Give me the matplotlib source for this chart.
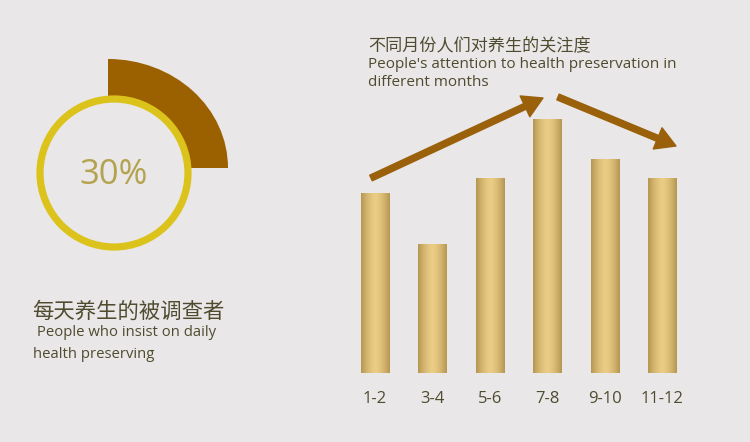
import matplotlib.pyplot as plt
import matplotlib.patches as mpatches
import matplotlib.transforms as mtransforms
import numpy as np

plt.rcParams['font.family'] = ['Open Sans', 'Noto Sans CJK SC', 'DejaVu Sans']

# data
months = ['1-2', '3-4', '5-6', '7-8', '9-10', '11-12']
attention = [180, 129, 195, 254, 214, 195]
share = 30          # percent shown in the ring
wedge_sweep = 90    # degrees drawn for the brown segment

bg = '#e9e7e8'
brown = '#9b6100'
ring_yellow = '#dcc31c'
text_gold = '#b4a34e'
text_dark = '#4f4b2f'

fig = plt.figure(figsize=(7.5, 4.42), dpi=100)
fig.patch.set_facecolor(bg)

# overlay axes in pixel units (y downward)
ov = fig.add_axes([0, 0, 1, 1])
ov.set_xlim(0, 750)
ov.set_ylim(442, 0)
ov.axis('off')
ov.set_zorder(2)
ov.patch.set_alpha(0)

# brown segment behind the ring
tr = mtransforms.Affine2D().scale(120, 109).translate(108, 168) + ov.transData
wedge = mpatches.Wedge((0, 0), 1, 360 - wedge_sweep, 360, facecolor=brown,
                       edgecolor='none', transform=tr)
ov.add_patch(wedge)
ring = mpatches.Circle((114, 173), 74, facecolor=bg, edgecolor=ring_yellow,
                       linewidth=5.2)
ov.add_patch(ring)
ov.text(114, 175, f'{share}%', ha='center', va='center', fontsize=25,
        color=text_gold)

# left caption
ov.text(32, 312, '每天养生的被调查者', ha='left', va='center', fontsize=15.4,
        color=text_dark, family=['Noto Sans CJK SC'])
ov.text(33, 333, ' People who insist on daily', ha='left', va='center',
        fontsize=10.7, color=text_dark)
ov.text(33, 354, 'health preserving', ha='left', va='center',
        fontsize=10.7, color=text_dark)

# right title
ov.text(368, 46, '不同月份人们对养生的关注度', ha='left', va='center',
        fontsize=12.3, color=text_dark, family=['Noto Sans CJK SC'])
ov.text(368, 65, "People's attention to health preservation in", ha='left',
        va='center', fontsize=11, color=text_dark)
ov.text(368, 82, 'different months', ha='left', va='center',
        fontsize=11, color=text_dark)

# trend arrows
for (x0, y0), (x1, y1) in [((371, 178), (543, 98)), ((558, 97), (676, 146))]:
    ov.annotate('', xy=(x1, y1), xytext=(x0, y0),
                arrowprops=dict(arrowstyle='simple,head_length=1.3,head_width=1.5,tail_width=0.4',
                                color='#9a600a', mutation_scale=11,
                                shrinkA=0, shrinkB=0))

# bar axes
ax = fig.add_axes([346 / 750, 69 / 442, 345 / 750, 300 / 442])
ax.set_xlim(-0.5, 5.5)
ax.set_ylim(0, 300)
ax.set_facecolor('none')
for s in ax.spines.values():
    s.set_visible(False)
ax.set_yticks([])
x = np.arange(len(months))
bars = ax.bar(x, attention, width=0.49, color='#d2b46a', edgecolor='none')
ax.set_xticks(x)
ax.set_xticklabels(months, fontsize=12, color=text_dark)
ax.tick_params(axis='x', length=0, pad=13)

# golden gradient inside each bar
t = np.linspace(0, 1, 64)
horiz = 1 - (2 * np.abs(t - 0.5)) ** 1.6
dark = np.array([0.71, 0.59, 0.32])
light = np.array([0.92, 0.80, 0.52])
grad = dark[None, :] + (light - dark)[None, :] * horiz[:, None]
grad = np.repeat(grad[None, :, :], 2, axis=0)
for b in bars:
    x0 = b.get_x()
    w = b.get_width()
    h = b.get_height()
    im = ax.imshow(grad, extent=(x0, x0 + w, 0, h), aspect='auto',
                   interpolation='bilinear', zorder=3)
    im.set_clip_path(b)

fig.savefig('out.png', dpi=100, facecolor=bg)
